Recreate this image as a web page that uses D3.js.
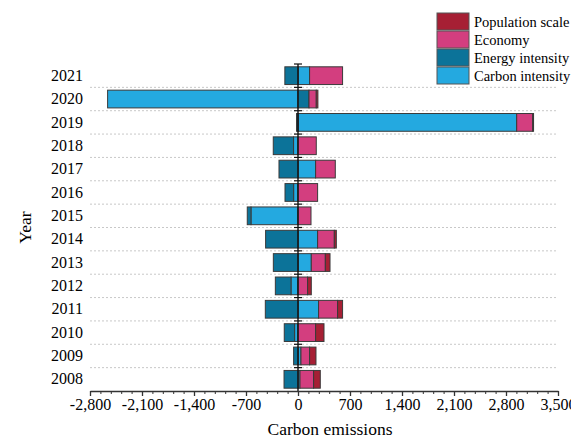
<!doctype html>
<html>
<head>
  <meta charset="utf-8">
  <script src="https://cdnjs.cloudflare.com/ajax/libs/d3/7.8.5/d3.min.js"></script>
  <style>
    body { margin: 0; background: #fff; }
    text { font-family: "Liberation Serif", "Times New Roman", serif; fill: #000; }
  </style>
</head>
<body>
<svg width="571" height="439"></svg>
<script>
var years      = [2008, 2009, 2010, 2011, 2012, 2013, 2014, 2015, 2016, 2017, 2018, 2019, 2020, 2021];
var population = [90, 86, 113, 67, 50, 63, 27, 0, 0, 0, 0, 12, 22, 0];
var economy    = [183, 116, 237, 256, 129, 189, 225, 175, 264, 265, 246, 215, 98, 444];
var energy     = [-188, -59, -139, -440, -211, -332, -436, -50, -116, -256, -273, -20, 148, -177];
var carbon     = [27, 40, -46, 277, -94, 179, 264, -633, -59, 237, -60, 2944, -2563, 156];

var majorTicks = [-2800, -2100, -1400, -700, 0, 700, 1400, 2100, 2800, 3500];
var seriesNames = ["Population scale", "Economy", "Energy intensity", "Carbon intensity"];
var colors = {
  "Population scale": "#a61f34",
  "Economy": "#d33e7f",
  "Energy intensity": "#0c7399",
  "Carbon intensity": "#24a9e0"
};

var rows = years.map(function(y, i) {
  return {
    year: y,
    "Population scale": population[i],
    "Economy": economy[i],
    "Energy intensity": energy[i],
    "Carbon intensity": carbon[i]
  };
});

var svg = d3.select("svg");
var plotLeft = 90, plotRight = 558, plotTop = 64, plotBottom = 391;

var x = d3.scaleLinear().domain([-2800, 3500]).range([plotLeft, plotRight]);
var y = d3.scaleBand()
  .domain(years.slice().reverse())
  .range([plotTop, plotBottom])
  .paddingInner(0.24).paddingOuter(0.12);

// dotted separators between years
var bounds = years.slice().reverse().map(function(d) { return y(d) - y.step() * y.paddingInner() / 2; });
bounds.push(plotBottom);
svg.append("g").selectAll("line")
  .data(bounds.slice(1, -1))
  .enter().append("line")
  .attr("x1", plotLeft).attr("x2", plotRight)
  .attr("y1", function(d) { return d; }).attr("y2", function(d) { return d; })
  .style("stroke", "#c8c8c8")
  .style("stroke-dasharray", "2,2");

// stacked bars, closest to zero first
var stack = d3.stack()
  .keys(["Carbon intensity", "Energy intensity", "Economy", "Population scale"])
  .offset(d3.stackOffsetDiverging);
var layers = stack(rows);

svg.append("g").selectAll("g")
  .data(layers)
  .enter().append("g")
  .style("fill", function(d) { return colors[d.key]; })
  .selectAll("rect")
  .data(function(d) { return d.filter(function(p) { return p[1] !== p[0]; }); })
  .enter().append("rect")
  .attr("x", function(d) { return x(Math.min(d[0], d[1])); })
  .attr("width", function(d) { return Math.abs(x(d[1]) - x(d[0])); })
  .attr("y", function(d) { return y(d.data.year); })
  .attr("height", y.bandwidth())
  .style("stroke", "#3a3a3a")
  .style("stroke-width", 1);

// zero line with small marks
svg.append("line")
  .attr("x1", x(0)).attr("x2", x(0))
  .attr("y1", plotTop).attr("y2", plotBottom)
  .style("stroke", "#111").style("stroke-width", 1.4);
svg.append("g").selectAll("line")
  .data(bounds.slice(0, -1))
  .enter().append("line")
  .attr("x1", x(0) - 4).attr("x2", x(0) + 4)
  .attr("y1", function(d) { return d; }).attr("y2", function(d) { return d; })
  .style("stroke", "#111").style("stroke-width", 1.2);

// x axis
var minorTicks = d3.range(-2800, 3501, 140).filter(function(v) { return v % 700 !== 0; });
svg.append("g")
  .attr("transform", "translate(0," + plotBottom + ")")
  .call(d3.axisBottom(x).tickValues(minorTicks).tickSize(3).tickFormat(""))
  .call(function(g) { g.select(".domain").remove(); })
  .selectAll("line").style("stroke", "#333");

var fmt = d3.format(",");
var xAxis = svg.append("g")
  .attr("transform", "translate(0," + plotBottom + ")")
  .call(d3.axisBottom(x).tickValues(majorTicks).tickSize(5).tickSizeOuter(0)
    .tickPadding(3).tickFormat(function(d) { return fmt(d).replace("\u2212", "-"); }));
xAxis.selectAll("text").style("font-size", "16px").style("font-family", '"Liberation Serif", serif');
xAxis.selectAll("line, path").style("stroke", "#333").style("stroke-width", 1.3);

// year labels
var yAxis = svg.append("g")
  .attr("transform", "translate(" + plotLeft + ",0)")
  .call(d3.axisLeft(y).tickSize(0).tickPadding(7));
yAxis.select(".domain").remove();
yAxis.selectAll("text").style("font-size", "16px").style("font-family", '"Liberation Serif", serif');

// axis titles
svg.append("text")
  .attr("x", 330).attr("y", 435)
  .attr("text-anchor", "middle")
  .style("font-size", "17.5px")
  .text("Carbon emissions");
svg.append("text")
  .attr("transform", "translate(31," + ((plotTop + plotBottom) / 2) + ") rotate(-90)")
  .attr("text-anchor", "middle")
  .style("font-size", "17.5px")
  .text("Year");

// legend
var legend = svg.append("g").attr("transform", "translate(437,13)");
var item = legend.selectAll("g")
  .data(seriesNames)
  .enter().append("g")
  .attr("transform", function(d, i) { return "translate(0," + (i * 18) + ")"; });
item.append("rect")
  .attr("width", 32).attr("height", 17)
  .style("fill", function(d) { return colors[d]; })
  .style("stroke", "#555");
item.append("text")
  .attr("x", 37).attr("y", 13.5)
  .style("font-size", "14.5px")
  .text(function(d) { return d; });
</script>
</body>
</html>
